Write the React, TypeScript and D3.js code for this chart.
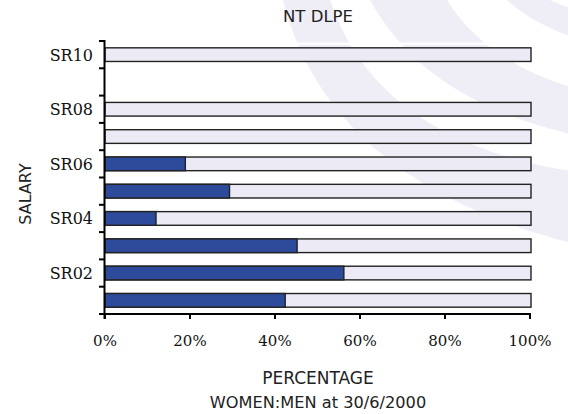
import React from 'react';
import * as d3 from 'd3';

const categories = ['SR01', 'SR02', 'SR03', 'SR04', 'SR05', 'SR06', 'SR07', 'SR08', 'SR09', 'SR10'];
const womenPct: (number | null)[] = [42.4, 56.2, 45.2, 12.0, 29.3, 18.9, 0, 0, null, 0];
const yTickLabels = ['SR02', 'SR04', 'SR06', 'SR08', 'SR10'];
const xTicks = [0, 20, 40, 60, 80, 100];

const TITLE = 'NT DLPE';
const X_TITLE = 'PERCENTAGE';
const SUBTITLE = 'WOMEN:MEN at 30/6/2000';
const Y_TITLE = 'SALARY';

export default function App() {
  const W = 568;
  const H = 414;
  const x = d3.scaleLinear().domain([0, 100]).range([105, 530]);
  const y = d3
    .scaleBand<string>()
    .domain([...categories].reverse())
    .range([41, 314])
    .paddingInner(0.5)
    .paddingOuter(0.25);
  const step = y.step();
  const boundaries = d3.range(categories.length + 1).map((i) => 41 + i * step);

  const blue = '#2E4A9B';
  const light = '#ECEBF5';
  const wm = '#EFEEF6';
  const serif = '"DejaVu Serif", serif';
  const sans = '"DejaVu Sans", sans-serif';

  return (
    <svg width={W} height={H} style={{ position: 'absolute', left: 0, top: 0, background: '#fff' }}>
      {/* watermark */}
      <g fill={wm}>
        <path d="M283,0 L330,0 Q380,150 600,175 L600,250 Q330,190 283,0 Z" />
        <path d="M370,0 L447,0 Q490,70 600,95 L600,140 Q430,110 370,0 Z" />
        <path d="M507,0 L550,0 Q570,10 600,15 L600,45 Q540,30 507,0 Z" />
      </g>
      <rect x={105} y={42.5} width={423} height={2.5} fill="#fff" />

      <text x={318} y={22} textAnchor="middle" fontFamily={sans} fontSize={16.5} fill="#222">
        {TITLE}
      </text>

      {/* bars */}
      {categories.map((c, i) => {
        const v = womenPct[i];
        if (v === null) return null;
        const yy = y(c)!;
        const bh = y.bandwidth();
        return (
          <g key={c}>
            <rect x={x(0)} y={yy} width={x(100) - x(0) + 1} height={bh} fill={light} stroke="#222" strokeWidth={1.4} />
            {v > 0 && (
              <rect x={x(0)} y={yy} width={x(v) - x(0)} height={bh} fill={blue} stroke="#222" strokeWidth={1.4} />
            )}
          </g>
        );
      })}

      {/* y axis */}
      <line x1={104.5} x2={104.5} y1={40} y2={319} stroke="#000" strokeWidth={2} />
      {boundaries.map((b, i) => (
        <line key={i} x1={99} x2={105} y1={b} y2={b} stroke="#000" strokeWidth={2} />
      ))}
      {yTickLabels.map((c) => (
        <text
          key={c}
          x={93}
          y={y(c)! + y.bandwidth() / 2 + 6}
          textAnchor="end"
          fontFamily={serif}
          fontSize={16}
          fill="#111"
        >
          {c}
        </text>
      ))}

      {/* x axis */}
      <line x1={104} x2={531} y1={314} y2={314} stroke="#000" strokeWidth={2} />
      {xTicks.map((t) => (
        <g key={t}>
          <line x1={x(t)} x2={x(t)} y1={314} y2={319} stroke="#000" strokeWidth={2} />
          <text x={x(t)} y={346} textAnchor="middle" fontFamily={serif} fontSize={15} fill="#111">
            {`${t}%`}
          </text>
        </g>
      ))}

      <text x={318} y={383.5} textAnchor="middle" fontFamily={sans} fontSize={17} fill="#222">
        {X_TITLE}
      </text>
      <text x={318} y={408} textAnchor="middle" fontFamily={sans} fontSize={16.2} fill="#222">
        {SUBTITLE}
      </text>
      <text
        transform={`translate(31,194) rotate(-90)`}
        textAnchor="middle"
        fontFamily={sans}
        fontSize={16}
        fill="#222"
      >
        {Y_TITLE}
      </text>
    </svg>
  );
}
